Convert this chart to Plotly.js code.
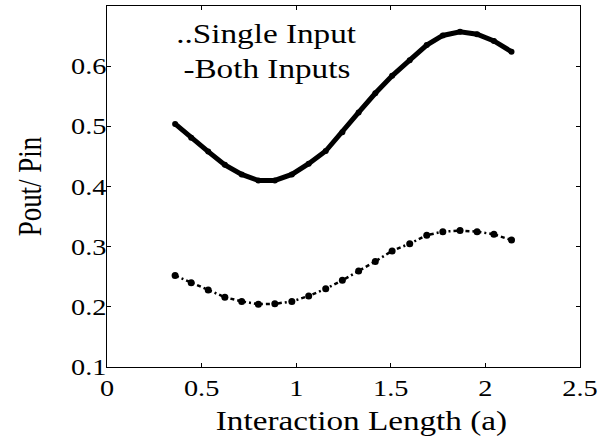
<!DOCTYPE html>
<html>
<head>
<meta charset="utf-8">
<script src="https://cdn.plot.ly/plotly-3.0.1.min.js"></script>
<style>
  html, body { margin: 0; padding: 0; background: #fff; }
  #chart { width: 604px; height: 438px; }
</style>
</head>
<body>
<div id="chart"></div>
<script>
// Interaction length (a) at each sample
const interactionLength = [0.36, 0.445, 0.535, 0.623, 0.712, 0.80, 0.887, 0.977, 1.066, 1.156, 1.244,
                           1.33, 1.418, 1.507, 1.60, 1.69, 1.775, 1.866, 1.956, 2.045, 2.138];
// Pout/Pin, single input
const singleInput = [0.252, 0.240, 0.228, 0.216, 0.209, 0.2045, 0.205, 0.209, 0.218, 0.230, 0.244,
                     0.2595, 0.2755, 0.293, 0.305, 0.319, 0.325, 0.3267, 0.325, 0.3205, 0.311];
// Pout/Pin, both inputs
const bothInputs = [0.504, 0.481, 0.458, 0.436, 0.420, 0.410, 0.410, 0.420, 0.438, 0.459, 0.490,
                    0.523, 0.555, 0.584, 0.610, 0.635, 0.651, 0.657, 0.653, 0.642, 0.624];
const xTicks = [0, 0.5, 1, 1.5, 2, 2.5];
const xTickText = ['0', '0.5', '1', '1.5', '2', '2.5'];
const yTicks = [0.1, 0.2, 0.3, 0.4, 0.5, 0.6];
const yTickText = ['0.1', '0.2', '0.3', '0.4', '0.5', '0.6'];

const serif = 'Liberation Serif';
// The figure's lettering is set wide: glyphs are widened horizontally by this factor.
const TEXT_STRETCH = 1.23;
// y tick labels sit close to the axis line
const Y_TICKLABEL_NUDGE = 5;

const traces = [
  {
    x: interactionLength, y: bothInputs, type: 'scatter', mode: 'lines+markers',
    line: { color: '#000', width: 5 },
    marker: { color: '#000', size: 6 },
    hoverinfo: 'skip', showlegend: false
  },
  {
    x: interactionLength, y: singleInput, type: 'scatter', mode: 'lines+markers',
    line: { color: '#000', width: 2.5, dash: '4px,3px,2px,3px' },
    marker: { color: '#000', size: 7 },
    hoverinfo: 'skip', showlegend: false
  }
];

const axisCommon = {
  showline: true, linecolor: '#000', linewidth: 1, mirror: 'ticks',
  ticks: 'inside', ticklen: 4, tickcolor: '#000', tickwidth: 1,
  showgrid: false, zeroline: false,
  tickfont: { family: serif, size: 23, color: '#000' }
};

const layout = {
  width: 604, height: 438,
  margin: { l: 107, r: 24, t: 6, b: 71 },
  paper_bgcolor: '#fff', plot_bgcolor: '#fff',
  font: { family: serif, color: '#000' },
  xaxis: Object.assign({}, axisCommon, {
    range: [0, 2.5], tickvals: xTicks, ticktext: xTickText
  }),
  yaxis: Object.assign({}, axisCommon, {
    range: [0.1, 0.7], tickvals: yTicks, ticktext: yTickText,
    title: { text: 'Pout/ Pin', font: { family: serif, size: 27, color: '#000' }, standoff: 23 }
  }),
  annotations: [
    // x-axis label, sitting slightly right of the axis centre
    { text: 'Interaction Length (a)', xref: 'paper', yref: 'paper', x: 0.5376, y: -0.149,
      showarrow: false, xanchor: 'center', yanchor: 'middle',
      font: { family: serif, size: 27, color: '#000' } },
    // in-plot key
    { text: '..Single Input', xref: 'paper', yref: 'paper', x: 0.337, y: 0.922,
      showarrow: false, xanchor: 'center', yanchor: 'middle',
      font: { family: serif, size: 27, color: '#000' } },
    { text: '-Both Inputs', xref: 'paper', yref: 'paper', x: 0.339, y: 0.825,
      showarrow: false, xanchor: 'center', yanchor: 'middle',
      font: { family: serif, size: 27, color: '#000' } }
  ]
};

// Widen the lettering about each text's anchor point.
function widenText(gd) {
  const k = TEXT_STRETCH;
  gd.querySelectorAll('.xtick text, .ytick text, text.annotation-text').forEach(t => {
    const x = parseFloat(t.getAttribute('x')) || 0;
    const tr = t.getAttribute('transform') || '';
    const nudge = t.closest('.ytick') ? ` translate(${Y_TICKLABEL_NUDGE},0)` : '';
    t.setAttribute('transform', `${tr}${nudge} translate(${x},0) scale(${k},1) translate(${-x},0)`);
  });
  gd.querySelectorAll('text.ytitle').forEach(t => {
    const y = parseFloat(t.getAttribute('y')) || 0;
    const tr = t.getAttribute('transform') || '';
    t.setAttribute('transform', `${tr} translate(0,${y}) scale(1,${k}) translate(0,${-y})`);
  });
}

Plotly.newPlot('chart', traces, layout, { staticPlot: true, displayModeBar: false })
  .then(widenText);
</script>
</body>
</html>
